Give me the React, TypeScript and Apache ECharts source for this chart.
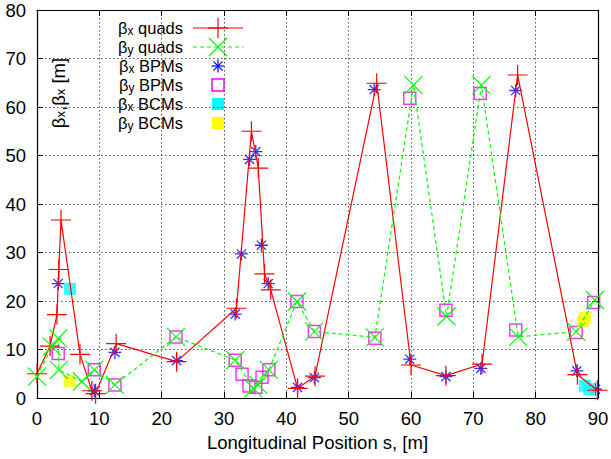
import React, { useEffect, useRef } from 'react';
import * as echarts from 'echarts';

// ---- data ----
const xTickValues = [0, 10, 20, 30, 40, 50, 60, 70, 80, 90];
const yTickValues = [0, 10, 20, 30, 40, 50, 60, 70, 80];

const betaxQuadS = [0, 2.1, 3.2, 3.5, 3.85, 6.9, 8.8, 9.4, 12.7, 22.4, 32.0, 34.4, 35.5, 36.5, 37.5, 41.8, 44.6, 54.5, 60.0, 65.6, 71.4, 77.1, 86.7, 89.9];
const betaxQuadV = [5.0, 10.7, 17.2, 26.5, 36.7, 9.0, 1.5, 0.9, 11.2, 7.5, 18.5, 55.0, 47.4, 25.6, 22.3, 2.0, 4.5, 64.9, 6.8, 4.6, 7.0, 66.6, 4.8, 1.6];

const betayQuadS = [0, 2.4, 3.4, 3.5, 7.2, 9.2, 12.5, 22.3, 31.8, 34.7, 35.5, 37.2, 41.7, 44.5, 54.2, 60.4, 65.7, 71.3, 77.2, 86.5, 89.5];
const betayQuadV = [4.4, 10.6, 12.3, 5.8, 3.4, 5.8, 2.7, 12.6, 7.8, 2.0, 2.7, 5.8, 19.9, 13.7, 12.5, 64.5, 16.8, 64.5, 12.6, 13.7, 20.2];

const betaxBpmS = [3.4, 9.2, 12.5, 22.4, 31.8, 32.8, 34.1, 35.1, 36.0, 37.1, 41.8, 44.5, 54.1, 59.8, 65.6, 71.2, 76.8, 86.6, 89.6];
const betaxBpmV = [23.6, 1.5, 9.4, 7.7, 17.3, 29.7, 49.2, 50.8, 31.5, 23.6, 2.2, 4.2, 63.6, 8.0, 4.4, 6.1, 63.4, 5.6, 1.8];

const betayBpmS = [3.4, 9.2, 12.5, 22.3, 31.8, 32.9, 34.0, 35.1, 36.1, 37.2, 41.7, 44.5, 54.2, 59.8, 65.6, 71.1, 76.8, 86.5, 89.3];
const betayBpmV = [9.2, 5.8, 2.7, 12.6, 7.8, 4.9, 2.5, 2.2, 4.3, 5.8, 19.9, 13.7, 12.3, 61.8, 18.1, 62.8, 14.0, 13.5, 19.7];

const betaxBcmS = [5.3, 87.9, 88.6];
const betaxBcmV = [22.5, 2.5, 1.8];

const betayBcmS = [5.2, 87.6, 87.9];
const betayBcmV = [3.5, 15.8, 16.6];

const legendSubs = ['x', 'y', 'x', 'y', 'x', 'y'];
const legendWords = ['quads', 'quads', 'BPMs', 'BPMs', 'BCMs', 'BCMs'];
const xAxisTitle = 'Longitudinal Position s, [m]';

// ---- styling ----
const FONT = '"Liberation Sans", Arial, Helvetica, sans-serif';
const FS = 18.5;
const LFS = 16.5;
const RED = '#ff0000';
const GREEN = '#00ff00';
const BLUE = '#0000ff';
const MAGENTA = '#ff00ff';
const CYAN = '#00ffff';
const YELLOW = '#ffff00';

const PLUS = 'path://M0,-10L0,10M-10,0L10,0';
const CROSS = 'path://M-10,-10L10,10M-10,10L10,-10';
const STAR = 'path://M0,-10L0,10M-10,0L10,0M-7.07,-7.07L7.07,7.07M-7.07,7.07L7.07,-7.07';

const pairs = (s: number[], v: number[]) => s.map((x, i) => [x, v[i]]);

const makeRich = (fs: number, sfs: number) => ({
  b: { fontSize: fs, fontFamily: FONT, lineHeight: 18, fill: '#000', color: '#000' },
  s: { fontSize: sfs, fontFamily: FONT, lineHeight: 6, verticalAlign: 'bottom', fill: '#000', color: '#000' },
  t: { fontSize: fs, fontFamily: FONT, lineHeight: 18, fill: '#000', color: '#000' },
});

function buildLegend(): any[] {
  const els: any[] = [];
  const textRight = 183;
  const iconX = 218;
  const rows = [28, 47, 66, 85, 104, 123];
  const legendRich = makeRich(LFS, 12);
  rows.forEach((y, i) => {
    els.push({
      type: 'text',
      x: textRight,
      y,
      silent: true,
      style: {
        text: `{b|β}{s|${legendSubs[i]}}{t| ${legendWords[i]}}`,
        align: 'right',
        verticalAlign: 'middle',
        fontSize: LFS,
        fontFamily: FONT,
        fill: '#000',
        rich: legendRich,
      },
    });
  });
  const ln = (x1: number, y1: number, x2: number, y2: number, stroke: string, w = 1.2, dash?: number[]) => ({
    type: 'line',
    silent: true,
    shape: { x1, y1, x2, y2 },
    style: { stroke, lineWidth: w, lineDash: dash },
  });
  // quads x
  els.push(ln(193, rows[0], 243, rows[0], RED));
  els.push(ln(iconX - 10, rows[0], iconX + 10, rows[0], RED));
  els.push(ln(iconX, rows[0] - 10, iconX, rows[0] + 10, RED));
  // quads y
  els.push(ln(193, rows[1], 243, rows[1], GREEN, 1.2, [4, 3]));
  els.push(ln(iconX - 9, rows[1] - 9, iconX + 9, rows[1] + 9, GREEN));
  els.push(ln(iconX - 9, rows[1] + 9, iconX + 9, rows[1] - 9, GREEN));
  // BPM x (asterisk)
  const r = 6.5;
  const d = r * 0.707;
  els.push(ln(iconX - r, rows[2], iconX + r, rows[2], BLUE));
  els.push(ln(iconX, rows[2] - r, iconX, rows[2] + r, BLUE));
  els.push(ln(iconX - d, rows[2] - d, iconX + d, rows[2] + d, BLUE));
  els.push(ln(iconX - d, rows[2] + d, iconX + d, rows[2] - d, BLUE));
  // BPM y (hollow square)
  els.push({ type: 'rect', silent: true, shape: { x: iconX - 6, y: rows[3] - 6, width: 12, height: 12 }, style: { fill: 'none', stroke: MAGENTA, lineWidth: 1.5 } });
  // BCM x, y (filled squares)
  els.push({ type: 'rect', silent: true, shape: { x: iconX - 6, y: rows[4] - 6, width: 12, height: 12 }, style: { fill: CYAN } });
  els.push({ type: 'rect', silent: true, shape: { x: iconX - 6, y: rows[5] - 6, width: 12, height: 12 }, style: { fill: YELLOW } });
  // y axis title, rotated
  els.push({
    type: 'text',
    x: 58,
    y: 93,
    rotation: Math.PI / 2,
    silent: true,
    style: {
      text: '{b|β}{s|x}{b|,β}{s|x}{b| [m]}',
      align: 'center',
      verticalAlign: 'middle',
      fontSize: FS,
      fontFamily: FONT,
      fill: '#000',
      rich: makeRich(FS, 13),
    },
  });
  return els;
}

export default function App() {
  const ref = useRef<HTMLDivElement>(null);
  useEffect(() => {
    document.body.style.margin = '0';
    if (!ref.current) return;
    const chart = echarts.init(ref.current, undefined, { renderer: 'svg' });
    const gridLine = { show: true, lineStyle: { color: '#555', width: 1, type: [1.5, 2.5] as any } };
    const axisLine = { show: true, onZero: false, lineStyle: { color: '#000', width: 1.2 } };
    const tick = { show: true, inside: true, length: 6, lineStyle: { color: '#000', width: 1 } };
    const label = { fontSize: FS, color: '#000', fontFamily: FONT };
    const option: any = {
      animation: false,
      backgroundColor: '#fff',
      grid: { left: 37, right: 13, top: 10, bottom: 61, containLabel: false, outerBoundsMode: 'none' },
      xAxis: [
        {
          type: 'value', min: xTickValues[0], max: xTickValues[xTickValues.length - 1], interval: 10, position: 'bottom',
          axisLine, axisTick: tick, splitLine: gridLine,
          axisLabel: { ...label, margin: 11 },
          name: xAxisTitle, nameLocation: 'middle', nameGap: 31,
          nameTextStyle: { fontSize: FS, color: '#000', fontFamily: FONT },
        },
        {
          type: 'value', min: xTickValues[0], max: xTickValues[xTickValues.length - 1], interval: 10, position: 'top',
          axisLine, axisTick: tick, splitLine: { show: false }, axisLabel: { show: false },
        },
      ],
      yAxis: [
        {
          type: 'value', min: yTickValues[0], max: yTickValues[yTickValues.length - 1], interval: 10, position: 'left',
          axisLine, axisTick: tick, splitLine: gridLine,
          axisLabel: { ...label, margin: 11 },
        },
        {
          type: 'value', min: yTickValues[0], max: yTickValues[yTickValues.length - 1], interval: 10, position: 'right',
          axisLine, axisTick: tick, splitLine: { show: false }, axisLabel: { show: false },
        },
      ],
      series: [
        {
          name: 'βx quads', type: 'line', data: pairs(betaxQuadS, betaxQuadV),
          symbol: PLUS, symbolSize: 20, showSymbol: true, clip: false, silent: true,
          lineStyle: { color: RED, width: 1.2 },
          itemStyle: { color: RED, borderColor: RED, borderWidth: 1.2 },
          emphasis: { disabled: true },
        },
        {
          name: 'βy quads', type: 'line', data: pairs(betayQuadS, betayQuadV),
          symbol: CROSS, symbolSize: 18, showSymbol: true, clip: false, silent: true,
          lineStyle: { color: GREEN, width: 1.2, type: [4, 3] },
          itemStyle: { color: GREEN, borderColor: GREEN, borderWidth: 1.2 },
          emphasis: { disabled: true },
        },
        {
          name: 'βx BPMs', type: 'scatter', data: pairs(betaxBpmS, betaxBpmV),
          symbol: STAR, symbolSize: 13, clip: false, silent: true,
          itemStyle: { color: BLUE, borderColor: BLUE, borderWidth: 1.3 },
          emphasis: { disabled: true },
        },
        {
          name: 'βy BPMs', type: 'scatter', data: pairs(betayBpmS, betayBpmV),
          symbol: 'rect', symbolSize: 12, clip: false, silent: true,
          itemStyle: { color: 'rgba(0,0,0,0)', borderColor: MAGENTA, borderWidth: 1.5 },
          emphasis: { disabled: true },
        },
        {
          name: 'βx BCMs', type: 'scatter', data: pairs(betaxBcmS, betaxBcmV),
          symbol: 'rect', symbolSize: 12, clip: false, silent: true,
          itemStyle: { color: CYAN },
          emphasis: { disabled: true },
        },
        {
          name: 'βy BCMs', type: 'scatter', data: pairs(betayBcmS, betayBcmV),
          symbol: 'rect', symbolSize: 12, clip: false, silent: true,
          itemStyle: { color: YELLOW },
          emphasis: { disabled: true },
        },
      ],
      graphic: buildLegend(),
    };
    chart.setOption(option);
    return () => chart.dispose();
  }, []);
  return <div ref={ref} style={{ width: 611, height: 459, position: 'fixed', left: 0, top: 0 }} />;
}
